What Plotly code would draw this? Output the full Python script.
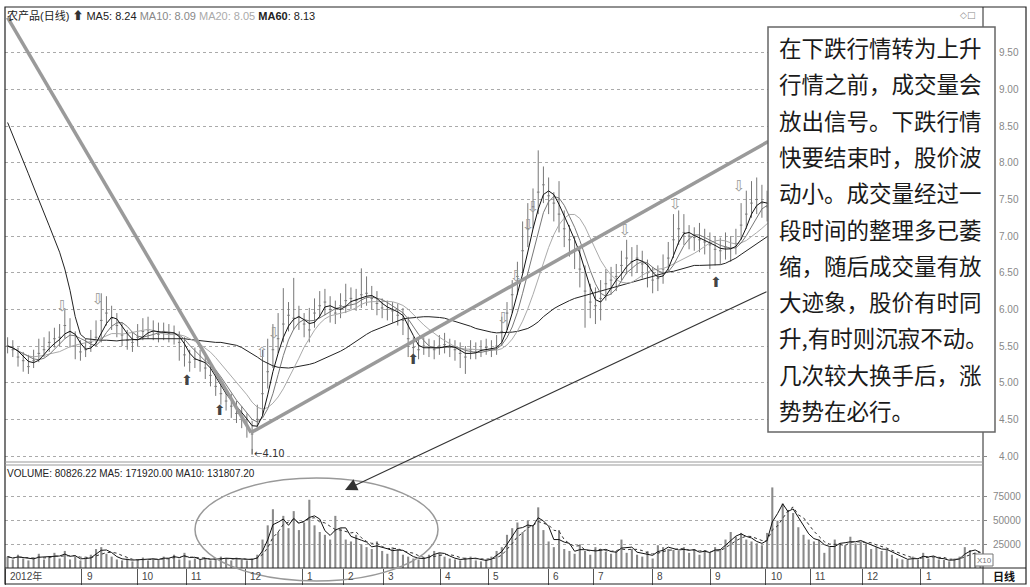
import plotly.graph_objects as go

W, H = 1030, 587

# ---------------- data (bar index = trading-day group) ----------------
close = [
    5.50, 5.45, 5.35, 5.30, 5.22, 5.30, 5.40, 5.45, 5.55, 5.60,
    5.62, 5.78, 5.70, 5.50, 5.42, 5.45, 5.55, 5.62, 5.85, 5.95,
    5.88, 5.78, 5.65, 5.58, 5.55, 5.62, 5.70, 5.72, 5.70, 5.66,
    5.70, 5.68, 5.66, 5.55, 5.38, 5.28, 5.32, 5.30, 5.20, 5.10,
    4.95, 4.85, 4.75, 4.68, 4.58, 4.52, 4.42, 4.30, 4.50, 4.85,
    5.15, 5.45, 5.60, 5.80, 5.92, 5.88, 5.90, 5.80, 5.72, 5.95,
    6.05, 6.10, 6.00, 5.95, 6.05, 6.12, 6.15, 6.12, 6.20, 6.22,
    6.15, 6.08, 6.02, 6.00, 5.98, 5.92, 5.85, 5.60, 5.48, 5.45,
    5.50, 5.48, 5.45, 5.50, 5.52, 5.48, 5.45, 5.40, 5.35, 5.45,
    5.42, 5.45, 5.48, 5.45, 5.50, 5.70, 5.95, 6.20, 6.45, 6.80,
    7.10, 7.40, 7.60, 7.70, 7.55, 7.45, 7.30, 7.10, 6.95, 6.80,
    6.55, 6.25, 6.10, 6.05, 6.15, 6.35, 6.40, 6.45, 6.60, 6.70,
    6.65, 6.70, 6.62, 6.50, 6.40, 6.42, 6.55, 6.70, 6.95, 7.10,
    7.05, 7.00, 6.98, 6.95, 6.92, 6.88, 6.82, 6.80, 6.85, 6.83,
    6.90, 7.15, 7.30, 7.45, 7.50, 7.45, 7.40, 7.50, 7.60, 7.55,
    7.65, 7.75, 7.70, 7.80, 7.85, 7.75, 7.70, 7.80, 7.90, 7.95,
    7.88, 7.80, 7.85, 7.95, 8.05, 8.00, 7.92, 7.98, 8.05, 8.10,
    8.02, 7.95, 8.00, 8.08, 8.12, 8.05, 8.00, 8.10, 8.18, 8.15,
    8.10, 8.05, 8.12, 8.20, 8.28, 8.22, 8.25, 8.24,
]
high = [
    5.62, 5.58, 5.48, 5.42, 5.38, 5.45, 5.60, 5.62, 5.70, 5.75,
    5.80, 6.00, 5.88, 5.70, 5.58, 5.60, 5.72, 5.85, 6.22, 6.18,
    6.05, 5.95, 5.82, 5.72, 5.68, 5.80, 5.88, 5.90, 5.85, 5.82,
    5.82, 5.80, 5.78, 5.70, 5.62, 5.45, 5.48, 5.45, 5.38, 5.28,
    5.15, 5.02, 4.92, 4.85, 4.75, 4.68, 4.58, 4.48, 4.70, 5.45,
    5.60, 5.80, 5.95, 6.29, 6.10, 6.43, 6.05, 5.95, 6.02, 6.15,
    6.25, 6.28, 6.18, 6.12, 6.22, 6.35, 6.30, 6.28, 6.56, 6.45,
    6.32, 6.25, 6.15, 6.12, 6.10, 6.08, 6.02, 5.90, 5.62, 5.60,
    5.62, 5.60, 5.58, 5.65, 5.68, 5.60, 5.58, 5.55, 5.50, 5.58,
    5.55, 5.58, 5.60, 5.58, 5.65, 5.90, 6.10, 6.40, 6.65, 7.20,
    7.45, 7.65, 8.17, 7.95, 7.80, 7.60, 7.75, 7.35, 7.15, 7.00,
    6.85, 6.60, 6.35, 6.30, 6.40, 6.55, 6.58, 6.62, 6.80, 6.95,
    6.85, 6.88, 6.80, 6.68, 6.58, 6.60, 6.75, 6.92, 7.30, 7.35,
    7.30, 7.15, 7.12, 7.18, 7.10, 7.05, 7.00, 6.98, 7.05, 7.00,
    7.10, 7.45, 7.62, 7.75, 7.80, 7.70, 7.62, 7.72, 7.85, 7.78,
    7.85, 7.98, 7.90, 8.02, 8.10, 7.95, 7.90, 8.05, 8.12, 8.15,
    8.05, 7.98, 8.02, 8.15, 8.25, 8.18, 8.10, 8.15, 8.22, 8.30,
    8.20, 8.12, 8.18, 8.25, 8.30, 8.22, 8.18, 8.28, 8.35, 8.32,
    8.28, 8.22, 8.30, 8.38, 8.45, 8.40, 8.42, 8.40,
]
low = [
    5.40, 5.35, 5.22, 5.15, 5.12, 5.20, 5.28, 5.35, 5.42, 5.48,
    5.50, 5.60, 5.48, 5.32, 5.30, 5.35, 5.42, 5.50, 5.55, 5.78,
    5.72, 5.62, 5.50, 5.45, 5.42, 5.50, 5.58, 5.60, 5.58, 5.55,
    5.58, 5.55, 5.52, 5.30, 5.22, 5.15, 5.20, 5.15, 5.05, 4.95,
    4.82, 4.70, 4.62, 4.52, 4.45, 4.38, 4.25, 4.10, 4.35, 4.55,
    4.92, 5.20, 5.40, 5.55, 5.70, 5.72, 5.72, 5.62, 5.55, 5.75,
    5.88, 5.92, 5.82, 5.80, 5.88, 5.95, 6.00, 5.98, 6.02, 6.05,
    6.00, 5.92, 5.88, 5.85, 5.82, 5.78, 5.65, 5.35, 5.35, 5.32,
    5.38, 5.35, 5.32, 5.38, 5.40, 5.35, 5.30, 5.20, 5.12, 5.32,
    5.32, 5.35, 5.38, 5.35, 5.38, 5.50, 5.72, 5.95, 6.20, 6.50,
    6.85, 7.10, 7.30, 7.45, 7.30, 7.20, 7.05, 6.85, 6.72, 6.55,
    6.30, 5.75, 5.88, 5.80, 5.85, 6.12, 6.20, 6.25, 6.40, 6.48,
    6.45, 6.50, 6.42, 6.30, 6.22, 6.25, 6.35, 6.52, 6.70, 6.88,
    6.88, 6.82, 6.80, 6.78, 6.75, 6.55, 6.60, 6.62, 6.68, 6.65,
    6.75, 6.95, 7.10, 7.25, 7.30, 7.25, 7.20, 7.30, 7.40, 7.35,
    7.45, 7.55, 7.52, 7.60, 7.65, 7.55, 7.50, 7.62, 7.70, 7.75,
    7.70, 7.62, 7.68, 7.78, 7.85, 7.82, 7.75, 7.80, 7.88, 7.92,
    7.85, 7.78, 7.82, 7.90, 7.95, 7.88, 7.82, 7.92, 8.00, 7.98,
    7.92, 7.88, 7.95, 8.02, 8.10, 8.05, 8.08, 8.08,
]
ma60 = [
    8.55, 8.38, 8.20, 8.02, 7.85, 7.67, 7.50, 7.32, 7.14, 6.96,
    6.78, 6.55, 6.26, 5.90, 5.66, 5.60, 5.59, 5.58, 5.58, 5.58,
    5.57, 5.57, 5.58, 5.58, 5.58, 5.59, 5.60, 5.60, 5.61, 5.61,
    5.61, 5.61, 5.61, 5.60, 5.60, 5.59, 5.58, 5.58, 5.57, 5.56,
    5.55, 5.55, 5.54, 5.53, 5.51, 5.48, 5.44, 5.40, 5.35, 5.30,
    5.26, 5.23, 5.21, 5.20, 5.20, 5.21, 5.22, 5.23, 5.25, 5.27,
    5.30, 5.33, 5.36, 5.40, 5.43, 5.47, 5.52, 5.57, 5.62, 5.66,
    5.70, 5.73, 5.76, 5.79, 5.82, 5.85, 5.87, 5.88, 5.89, 5.90,
    5.90, 5.90, 5.90, 5.89, 5.88, 5.86, 5.84, 5.82, 5.80, 5.77,
    5.74, 5.72, 5.70, 5.69, 5.68, 5.68, 5.68, 5.69, 5.70, 5.72,
    5.74, 5.78, 5.83, 5.90, 5.96, 6.01, 6.05, 6.09, 6.12, 6.15,
    6.17, 6.19, 6.21, 6.23, 6.25, 6.27, 6.30, 6.32, 6.34, 6.36,
    6.38, 6.40, 6.42, 6.44, 6.46, 6.48, 6.50, 6.51, 6.52, 6.54,
    6.56, 6.58, 6.60, 6.60, 6.60, 6.60, 6.60, 6.61, 6.63, 6.66,
    6.70, 6.75, 6.80, 6.85, 6.90, 6.95, 7.00, 7.04, 7.08, 7.12,
    7.16, 7.20, 7.24, 7.28, 7.32, 7.36, 7.40, 7.44, 7.48, 7.52,
    7.56, 7.60, 7.64, 7.68, 7.72, 7.76, 7.80, 7.84, 7.87, 7.90,
    7.93, 7.96, 7.98, 8.00, 8.02, 8.04, 8.06, 8.07, 8.08, 8.09,
    8.10, 8.10, 8.11, 8.11, 8.12, 8.12, 8.13, 8.13,
]
volume = [
    12000, 9000, 14000, 10000, 8000, 11000, 15000, 9000, 12000, 16000,
    10000, 18000, 9000, 12000, 8000, 10000, 14000, 20000, 22000, 15000,
    12000, 9000, 8000, 10000, 7000, 9000, 11000, 8000, 10000, 9000,
    12000, 10000, 14000, 9000, 16000, 8000, 10000, 9000, 11000, 8000,
    9000, 12000, 10000, 8000, 11000, 9000, 8000, 10000, 14000, 30000,
    45000, 62000, 38000, 55000, 42000, 60000, 40000, 48000, 72000, 45000,
    38000, 35000, 30000, 55000, 42000, 30000, 28000, 35000, 25000, 22000,
    20000, 28000, 18000, 15000, 22000, 20000, 14000, 12000, 10000, 9000,
    11000, 14000, 18000, 16000, 12000, 10000, 9000, 8000, 11000, 12000,
    8000, 7000, 9000, 12000, 18000, 22000, 35000, 42000, 48000, 38000,
    50000, 45000, 64000, 40000, 28000, 22000, 40000, 20000, 18000, 15000,
    25000, 18000, 14000, 22000, 20000, 17000, 15000, 18000, 30000, 16000,
    20000, 14000, 12000, 18000, 10000, 24000, 22000, 20000, 19000, 18000,
    22000, 16000, 20000, 14000, 19000, 16000, 22000, 20000, 30000, 38000,
    33000, 37000, 30000, 28000, 26000, 24000, 37000, 85000, 50000, 68000,
    61000, 58000, 43000, 35000, 30000, 28000, 30000, 16000, 22000, 30000,
    26000, 24000, 33000, 26000, 28000, 26000, 20000, 22000, 18000, 19000,
    14000, 10000, 9000, 8500, 12000, 9000, 16000, 10000, 12000, 9000,
    8500, 7000, 10000, 12000, 22000, 19000, 16000, 14000,
]

month_start = [-0.5, 14.3, 24.9, 34.3, 45.7, 56.6, 64.5, 72.2, 83.2, 92.4,
               103.9, 112.6, 123.9, 135.1, 145.7, 154.3, 164.3, 175.5]
month_labels = ["2012年", "9", "10", "11", "12", "1", "2", "3", "4", "5",
                "6", "7", "8", "9", "10", "11", "12", "1"]

price_ticks = [4.0, 4.5, 5.0, 5.5, 6.0, 6.5, 7.0, 7.5, 8.0, 8.5, 9.0, 9.5]
vol_ticks = [25000, 50000, 75000]

buy_x = [34.5, 40.8, 78.0, 136.2]
buy_y = [5.01, 4.61, 5.30, 6.36]
sell_x = [10.5, 17.4, 51.2, 95.3, 97.8, 100.1, 101.0, 118.7, 128.4, 140.6]
sell_y = [6.03, 6.13, 5.66, 5.86, 6.44, 7.14, 7.38, 7.06, 7.42, 7.67]
hollow_up_x = [48.9]
hollow_up_y = [5.40]

trend_down_x = [0.0, 46.8]
trend_down_y = [9.98, 4.32]
trend_up_x = [46.8, 146.2]
trend_up_y = [4.32, 8.29]

note_lines = [
    "在下跌行情转为上升",
    "行情之前，成交量会",
    "放出信号。下跌行情",
    "快要结束时，股价波",
    "动小。成交量经过一",
    "段时间的整理多已萎",
    "缩，随后成交量有放",
    "大迹象，股价有时同",
    "升,有时则沉寂不动。",
    "几次较大换手后，涨",
    "势势在必行。",
]


def rolling(vals, n):
    out = []
    for i in range(len(vals)):
        w = vals[max(0, i - n + 1): i + 1]
        out.append(sum(w) / len(w))
    return out


idx = list(range(len(close)))
ma5 = rolling(close, 3)
ma10 = rolling(close, 5)
ma20 = rolling(close, 10)
vma5 = rolling(volume, 3)
vma10 = rolling(volume, 5)

low_i = min(idx, key=lambda i: low[i])
low_v = low[low_i]


def px(x):
    return x / W


def py(y):
    return 1 - y / H


fig = go.Figure()

# price bars (high-low with close tick)
fig.add_trace(go.Ohlc(
    x=idx, open=close, high=high, low=low, close=close,
    increasing=dict(line=dict(color="#777", width=1)),
    decreasing=dict(line=dict(color="#777", width=1)),
    tickwidth=0.25, xaxis="x", yaxis="y", hoverinfo="skip"))

for series, col in [(ma60, "#222"), (ma20, "#aaa"), (ma10, "#777"), (ma5, "#111")]:
    fig.add_trace(go.Scatter(x=idx, y=series, mode="lines",
                             line=dict(color=col, width=1),
                             xaxis="x", yaxis="y", hoverinfo="skip"))

# trend lines
for tx, ty in [(trend_down_x, trend_down_y), (trend_up_x, trend_up_y)]:
    fig.add_trace(go.Scatter(x=tx, y=ty, mode="lines",
                             line=dict(color="#9a9a9a", width=3.5),
                             xaxis="x", yaxis="y", hoverinfo="skip"))

# low marker
fig.add_trace(go.Scatter(x=[low_i, low_i], y=[low_v, low_v - 0.08], mode="lines",
                         line=dict(color="#333", width=1),
                         xaxis="x", yaxis="y", hoverinfo="skip"))

# signal arrows
fig.add_trace(go.Scatter(x=buy_x, y=buy_y, mode="text", text=["⬆"] * len(buy_x),
                         textfont=dict(size=14, color="#444", family="DejaVu Sans"),
                         xaxis="x", yaxis="y", hoverinfo="skip"))
fig.add_trace(go.Scatter(x=sell_x, y=sell_y, mode="text", text=["⇩"] * len(sell_x),
                         textfont=dict(size=15, color="#999", family="DejaVu Sans"),
                         xaxis="x", yaxis="y", hoverinfo="skip"))
fig.add_trace(go.Scatter(x=hollow_up_x, y=hollow_up_y, mode="text", text=["⇧"] * len(hollow_up_x),
                         textfont=dict(size=14, color="#999", family="DejaVu Sans"),
                         xaxis="x", yaxis="y", hoverinfo="skip"))

# volume
fig.add_trace(go.Bar(x=idx, y=volume, marker=dict(color="#8a8a8a", line=dict(width=0)),
                     width=0.4, xaxis="x2", yaxis="y2", hoverinfo="skip"))
fig.add_trace(go.Scatter(x=idx, y=vma5, mode="lines", line=dict(color="#111", width=1),
                         xaxis="x2", yaxis="y2", hoverinfo="skip"))
fig.add_trace(go.Scatter(x=idx, y=vma10, mode="lines", line=dict(color="#333", width=1, dash="dot"),
                         xaxis="x2", yaxis="y2", hoverinfo="skip"))

xdom = [px(5), px(983)]
xr = [-0.5, len(close) - 0.5]
axis_font = dict(size=10, color="#888", family="Liberation Sans")

fig.update_layout(
    width=W, height=H, margin=dict(l=0, r=0, t=0, b=0),
    paper_bgcolor="white", plot_bgcolor="white", showlegend=False,
    xaxis=dict(domain=xdom, range=xr, anchor="y", showticklabels=False, ticks="",
               showgrid=False, zeroline=False, rangeslider=dict(visible=False)),
    xaxis2=dict(domain=xdom, range=xr, anchor="y2", showticklabels=False,
                tickvals=month_start, ticks="outside", ticklen=16, tickcolor="#555",
                showgrid=False, zeroline=False),
    yaxis=dict(domain=[py(463), py(8)], range=[3.9045, 10.112], side="right",
               tickvals=price_ticks, tickformat=".2f", tickfont=axis_font,
               ticks="outside", ticklen=3, tickcolor="#888", ticklabelstandoff=10,
               showgrid=True, gridcolor="#aaa", griddash="dot", gridwidth=1,
               zeroline=False, anchor="x"),
    yaxis2=dict(domain=[py(568), py(463)], range=[0, 110760], side="right",
                tickvals=vol_ticks, tickformat="d", tickfont=axis_font,
                ticks="outside", ticklen=3, tickcolor="#888", ticklabelstandoff=4,
                showgrid=True, gridcolor="#aaa", griddash="dot", gridwidth=1,
                zeroline=False, anchor="x2"),
)

shapes = [
    # outer frame
    dict(type="rect", xref="paper", yref="paper", x0=px(5), x1=px(1026), y0=py(584), y1=py(7),
         line=dict(color="#222", width=1.2)),
    dict(type="line", xref="paper", yref="paper", x0=px(983), x1=px(983), y0=py(584), y1=py(7),
         line=dict(color="#222", width=1)),
    dict(type="line", xref="paper", yref="paper", x0=px(5), x1=px(983), y0=py(462), y1=py(462),
         line=dict(color="#999", width=1)),
    dict(type="line", xref="paper", yref="paper", x0=px(5), x1=px(983), y0=py(465), y1=py(465),
         line=dict(color="#999", width=1)),
    dict(type="line", xref="paper", yref="paper", x0=px(5), x1=px(1026), y0=py(568), y1=py(568),
         line=dict(color="#222", width=1)),
    # ellipse
    dict(type="circle", xref="paper", yref="paper", x0=px(195), x1=px(438), y0=py(581), y1=py(478),
         line=dict(color="#999", width=1.5)),
    # note box
    dict(type="rect", xref="paper", yref="paper", x0=px(768), x1=px(995), y0=py(432), y1=py(27),
         fillcolor="white", line=dict(color="#666", width=1.5), layer="above"),
    # X10 box
    dict(type="rect", xref="paper", yref="paper", x0=px(975), x1=px(993), y0=py(566), y1=py(554),
         fillcolor="white", line=dict(color="#777", width=1), layer="above"),
]

annotations = [
    dict(xref="paper", yref="paper", x=px(5), y=py(15), xanchor="left", yanchor="middle",
         showarrow=False,
         text='农产品(日线) <span style="color:#333">⬆</span> MA5: 8.24 '
              '<span style="color:#888">MA10: 8.09</span> '
              '<span style="color:#aaa">MA20: 8.05</span> '
              '<b>MA60</b>: 8.13',
         font=dict(size=11, color="#222", family="Liberation Sans, Noto Sans CJK SC")),
    dict(xref="paper", yref="paper", x=px(5), y=py(473), xanchor="left", yanchor="middle",
         showarrow=False, text="VOLUME: 80826.22 MA5: 171920.00 MA10: 131807.20",
         font=dict(size=10, color="#222", family="Liberation Sans")),
    dict(xref="paper", yref="paper", x=px(958), y=py(15), xanchor="left", yanchor="middle",
         showarrow=False, text="◇□", font=dict(size=9, color="#888", family="DejaVu Sans")),
    dict(xref="paper", yref="paper", x=px(984), y=py(560), xanchor="center", yanchor="middle",
         showarrow=False, text="X10", font=dict(size=8, color="#777", family="Liberation Sans")),
    dict(xref="paper", yref="paper", x=px(1004), y=py(576), xanchor="center", yanchor="middle",
         showarrow=False, text="<b>日线</b>", font=dict(size=11, color="#111", family="Noto Sans CJK SC")),
    dict(xref="x", yref="y", x=low_i, y=low_v - 0.07, xanchor="left", yanchor="middle",
         showarrow=False, text=f"←{low_v:.2f}",
         font=dict(size=10, color="#333", family="DejaVu Sans")),
    # pointer arrow to the volume ellipse
    dict(xref="paper", yref="paper", x=px(345), y=py(490), ax=768 - 345, ay=291 - 490,
         axref="pixel", ayref="pixel", showarrow=True, text="", arrowhead=2,
         arrowsize=2.2, arrowwidth=1.1, arrowcolor="#333", standoff=0),
]

for lab, ms in zip(month_labels, month_start):
    annotations.append(dict(xref="x", yref="paper", x=ms, y=py(576), xanchor="left",
                            yanchor="middle", xshift=3, showarrow=False, text=lab,
                            font=dict(size=10, color="#444",
                                      family="Liberation Sans, Noto Sans CJK SC")))

for k, line in enumerate(note_lines):
    annotations.append(dict(xref="paper", yref="paper", x=px(777), y=py(47 + k * 36.3),
                            xanchor="left", yanchor="middle", showarrow=False, text=line,
                            font=dict(size=22.5, color="#1a1a1a", family="Noto Sans CJK SC")))

fig.update_layout(shapes=shapes, annotations=annotations)

fig.write_html("out.html",
               config={"displayModeBar": False},
               post_script="document.body.style.margin='0';document.body.style.padding='0';")
